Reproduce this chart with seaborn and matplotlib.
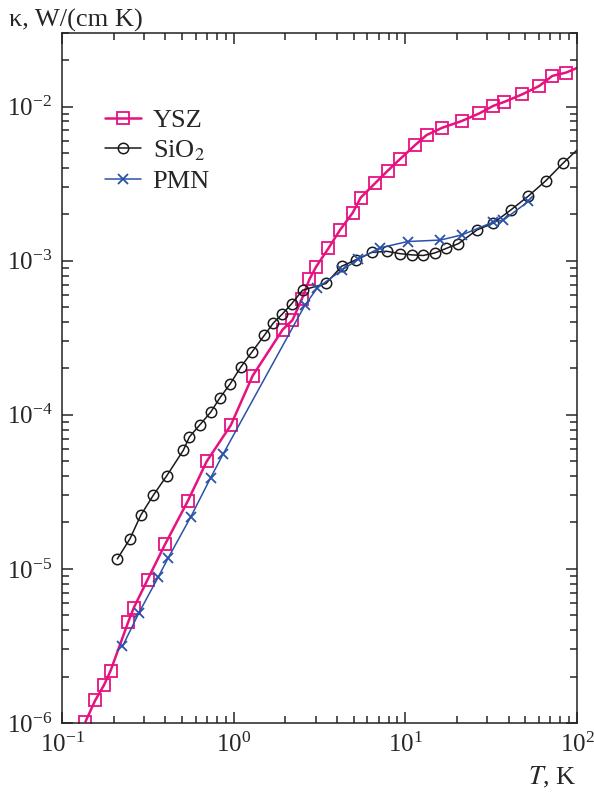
import matplotlib
matplotlib.use("Agg")
import matplotlib.pyplot as plt
import seaborn as sns
import numpy as np

# YSZ (squares); last point is the curve end, drawn without a marker
ysz_T = [0.137, 0.156, 0.176, 0.192, 0.243, 0.262, 0.315, 0.398, 0.540, 0.697,
         0.962, 1.29, 1.93, 2.20, 2.49, 2.76, 3.02, 3.56, 4.16, 4.93,
         5.49, 6.65, 7.89, 9.31, 11.4, 13.3, 16.4, 21.3, 27.0, 32.5,
         37.6, 48.0, 60.3, 71.8, 86.3, 100.0]
ysz_k = [1.02e-6, 1.40e-6, 1.77e-6, 2.19e-6, 4.52e-6, 5.60e-6, 8.51e-6, 1.44e-5, 2.75e-5, 4.99e-5,
         8.55e-5, 1.79e-4, 3.57e-4, 4.11e-4, 5.60e-4, 7.55e-4, 9.12e-4, 1.20e-3, 1.58e-3, 2.04e-3,
         2.56e-3, 3.17e-3, 3.83e-3, 4.56e-3, 5.62e-3, 6.53e-3, 7.28e-3, 8.05e-3, 9.03e-3, 1.01e-2,
         1.07e-2, 1.20e-2, 1.36e-2, 1.58e-2, 1.66e-2, 1.78e-2]

# SiO2 (circles); last point is the curve end
sio2_T = [0.210, 0.249, 0.287, 0.340, 0.407, 0.509, 0.552, 0.637, 0.735, 0.832,
          0.952, 1.10, 1.28, 1.51, 1.70, 1.92, 2.18, 2.52, 3.45, 4.26,
          5.13, 6.37, 7.78, 9.31, 10.9, 12.7, 14.8, 17.3, 20.4, 26.1,
          32.5, 41.1, 52.0, 65.8, 82.8, 100.0]
sio2_k = [1.16e-5, 1.57e-5, 2.22e-5, 3.00e-5, 4.01e-5, 5.88e-5, 7.18e-5, 8.63e-5, 1.04e-4, 1.29e-4,
          1.58e-4, 2.04e-4, 2.56e-4, 3.28e-4, 3.93e-4, 4.50e-4, 5.26e-4, 6.43e-4, 7.11e-4, 9.20e-4,
          1.01e-3, 1.13e-3, 1.15e-3, 1.11e-3, 1.09e-3, 1.08e-3, 1.12e-3, 1.20e-3, 1.29e-3, 1.58e-3,
          1.75e-3, 2.13e-3, 2.62e-3, 3.30e-3, 4.28e-3, 5.22e-3]

# PMN (crosses)
pmn_T = [0.225, 0.281, 0.364, 0.416, 0.562, 0.735, 0.871, 2.60, 3.07, 4.26,
         5.32, 7.11, 10.3, 16.0, 21.4, 32.5, 37.2, 52.0]
pmn_k = [3.14e-6, 5.20e-6, 8.87e-6, 1.18e-5, 2.17e-5, 3.91e-5, 5.60e-5, 5.14e-4, 6.65e-4, 8.67e-4,
         1.02e-3, 1.21e-3, 1.33e-3, 1.36e-3, 1.47e-3, 1.78e-3, 1.83e-3, 2.42e-3]

pink = "#e5127f"
black = "#1a1a1a"
blue = "#2a52a8"

sns.set_style("ticks")
plt.rcParams["font.family"] = ["Liberation Serif", "DejaVu Serif"]
plt.rcParams["mathtext.fontset"] = "stix"

fig = plt.figure(figsize=(5.94, 7.93), dpi=100)
ax = fig.add_axes([0.1044, 0.0883, 0.8670, 0.8701])

sns.lineplot(x=ysz_T, y=ysz_k, ax=ax, color=pink, lw=1.8, ls="-", marker="s", ms=8.5,
             mfc="none", mec=pink, mew=1.3, markevery=list(range(len(ysz_T) - 1)),
             sort=False, estimator=None, label="YSZ")
sns.lineplot(x=sio2_T, y=sio2_k, ax=ax, color=black, lw=1.1, ls="-", marker="o", ms=7.5,
             mfc="none", mec=black, mew=1.1, markevery=list(range(len(sio2_T) - 1)),
             sort=False, estimator=None, label="SiO$_2$")
sns.lineplot(x=pmn_T, y=pmn_k, ax=ax, color=blue, lw=1.1, ls="-", marker="x", ms=7,
             mec=blue, mew=1.3, sort=False, estimator=None, label="PMN")

ax.set_xscale("log")
ax.set_yscale("log")
ax.set_xlim(0.1, 100)
ax.set_ylim(1e-6, 3e-2)

ax.tick_params(which="both", direction="in", top=True, right=True, labelsize=18, width=1.1)
ax.tick_params(which="major", length=8, pad=7)
ax.tick_params(which="minor", length=5)
for s in ax.spines.values():
    s.set_linewidth(1.1)
    s.set_color("#222222")

ax.set_xlabel("$T$, K", fontsize=19, loc="right", labelpad=6)
ax.set_ylabel("κ, W/(cm K)", fontsize=19, rotation=0, ha="left", va="center")
ax.yaxis.set_label_coords(-0.103, 1.018)

ax.legend(loc="upper left", bbox_to_anchor=(0.058, 0.91), frameon=False, fontsize=19,
          handlelength=1.35, handletextpad=0.45, labelspacing=0.25, borderpad=0)

fig.savefig("out.png", dpi=100)
